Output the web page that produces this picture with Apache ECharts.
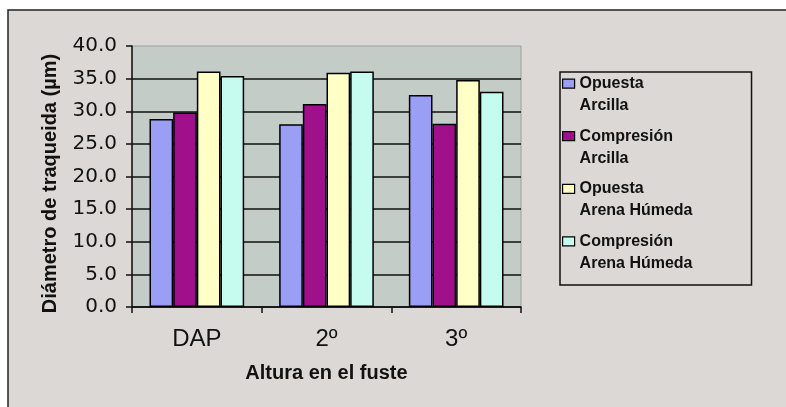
<!DOCTYPE html>
<html>
<head>
<meta charset="utf-8">
<script src="https://cdn.jsdelivr.net/npm/echarts@6/dist/echarts.min.js"></script>
<style>
html,body{margin:0;padding:0;background:#fff;overflow:hidden;}
#c{width:786px;height:407px;}
</style>
</head>
<body>
<div id="c"></div>
<script>
const categories = ['DAP', '2º', '3º'];
const seriesNames = ['Opuesta\nArcilla', 'Compresión\nArcilla', 'Opuesta\nArena Húmeda', 'Compresión\nArena Húmeda'];
const opuestaArcilla = [28.8, 28.0, 32.5];
const compresionArcilla = [29.8, 31.1, 28.1];
const opuestaArena = [36.1, 35.9, 34.8];
const compresionArena = [35.4, 36.1, 33.0];
const yTicks = { min: 0, max: 40, interval: 5 };

const values = [opuestaArcilla, compresionArcilla, opuestaArena, compresionArena];
const colors = ['#9a9ef5', '#a0108a', '#ffffc6', '#c6fcf0'];

const chart = echarts.init(document.getElementById('c'));
const legendIcon = 'path://M0,0M0,6.5h12v9h-12zM12,44';

chart.setOption({
  animation: false,
  graphic: [{
    type: 'rect', z: -10,
    shape: { x: 8, y: 10, width: 1000, height: 600 },
    style: { fill: '#dcd8d5', stroke: '#222', lineWidth: 1.5 }
  }],
  grid: {
    left: 132, right: 265, top: 46, bottom: 100,
    show: true, backgroundColor: '#c4ccc8', borderColor: '#9aa09e', borderWidth: 1
  },
  legend: {
    orient: 'vertical',
    left: 560, top: 72,
    padding: [0, 59, 10, 2],
    borderColor: '#111', borderWidth: 1.5,
    itemWidth: 12, itemHeight: 44, itemGap: 7.4,
    icon: legendIcon,
    itemStyle: { borderColor: '#000', borderWidth: 1.2 },
    textStyle: { fontFamily: 'Liberation Sans, Arial, sans-serif', fontWeight: 'bold', fontSize: 16, color: '#111', lineHeight: 22 },
    data: seriesNames
  },
  xAxis: {
    type: 'category',
    data: categories,
    name: 'Altura en el fuste',
    nameLocation: 'middle',
    nameGap: 56,
    nameTextStyle: { fontFamily: 'Liberation Sans, Arial, sans-serif', fontWeight: 'bold', fontSize: 20, color: '#111' },
    axisLine: { lineStyle: { color: '#111', width: 1.5 } },
    axisTick: { show: true, length: 6, lineStyle: { color: '#111', width: 1.5 } },
    axisLabel: { margin: 20, fontFamily: 'Liberation Sans, Arial, sans-serif', fontSize: 24, color: '#111' },
    splitLine: { show: false }
  },
  yAxis: {
    type: 'value',
    min: yTicks.min, max: yTicks.max, interval: yTicks.interval,
    name: 'Diámetro de traqueida (µm)',
    nameLocation: 'middle',
    nameGap: 72,
    nameRotate: 90,
    nameTextStyle: { fontFamily: 'Liberation Sans, Arial, sans-serif', fontWeight: 'bold', fontSize: 20, color: '#111', padding: [0, 14, 0, 0] },
    axisLine: { show: true, lineStyle: { color: '#111', width: 1.5 } },
    axisTick: { show: true, length: 6, lineStyle: { color: '#111', width: 1.5 } },
    axisLabel: { margin: 15, fontFamily: 'DejaVu Sans, sans-serif', fontSize: 20, color: '#111', formatter: v => v.toFixed(1) },
    splitLine: { show: true, showMaxLine: false, lineStyle: { color: '#111', width: 1.5 } }
  },
  series: seriesNames.map((n, i) => ({
    name: n,
    type: 'bar',
    data: values[i],
    barGap: '0%',
    barCategoryGap: '27%',
    itemStyle: { color: colors[i], borderColor: '#000', borderWidth: 1.5 }
  }))
});
</script>
</body>
</html>
